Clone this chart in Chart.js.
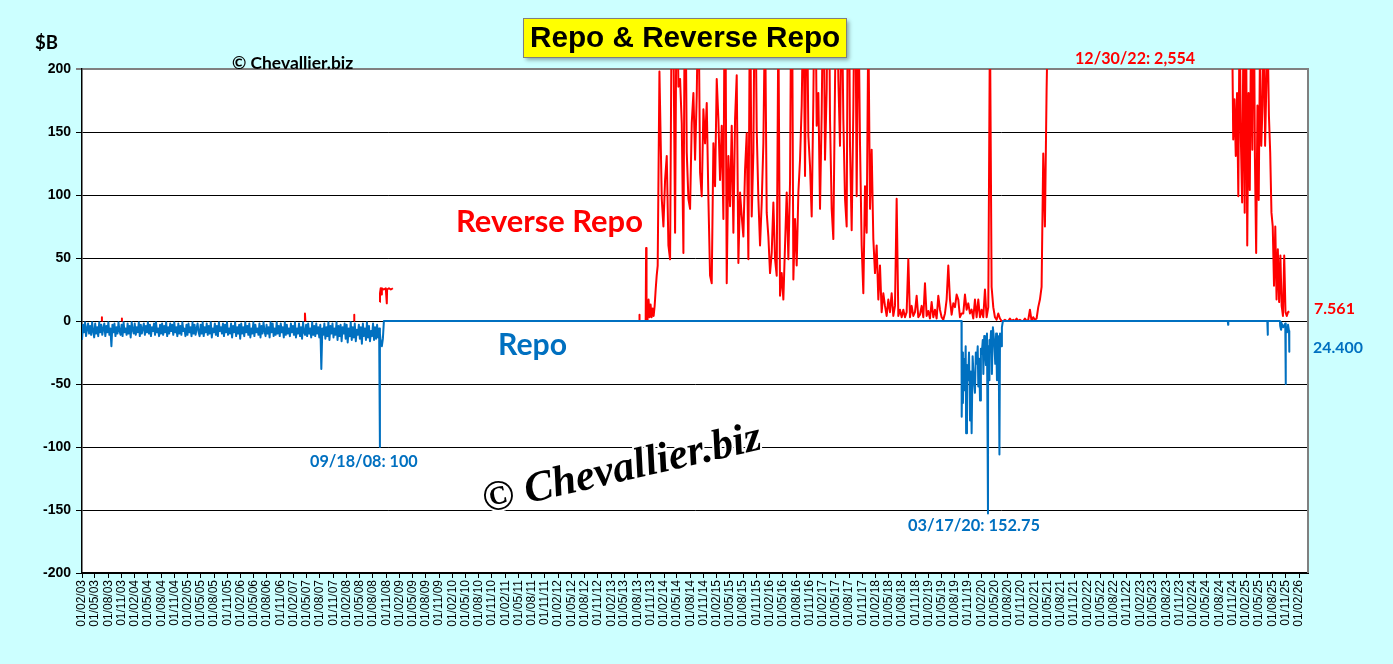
<!DOCTYPE html>
<html>
<head>
<meta charset="utf-8">
<title>Repo &amp; Reverse Repo</title>
<script src="https://cdn.jsdelivr.net/npm/chart.js@4.4.1/dist/chart.umd.min.js"></script>
<style>
  html, body { margin: 0; padding: 0; background: #CCFFFF; }
  canvas { display: block; }
</style>
</head>
<body>
<canvas id="chart" width="1393" height="664"></canvas>
<script>
// Repo & Reverse Repo ($B) - daily series at a coarser step

const DAY = 86400000;
const t = s => Date.parse(s);

// x axis: quarterly labels dd/mm/yy
const tickYears = ['03', '04', '05', '06', '07', '08', '09', '10', '11', '12', '13', '14',
  '15', '16', '17', '18', '19', '20', '21', '22', '23', '24', '25', '26'];
const tickMonths = ['02', '05', '08', '11'];
const xStart = '2003-02-01';
const xEnd = '2026-04-04';

// y axis
const yMin = -200;
const yMax = 200;
const yStep = 50;

// Repo (negative), 2003-2008, one value a week
const repoEarlyStart = '2003-02-01';
const repoEarlyStepDays = 7;
const repoEarly = [
  -15, -3, -9, -1, -12, -6, -2, -10, -4, -11, -1, -8, -13,
  -2, -10, -5, -12, -1, -9, -3, -11, -6, -2, -12, -4, -9,
  -1, -11, -6, -20, -3, -9, -2, -12, -5, -10, -1, -8, -11,
  -3, -12, -1, -9, -6, -11, -2, -10, -4, -13, -1, -7, -10,
  -2, -11, -5, -9, -1, -12, -3, -10, -6, -2, -11, -4, -9,
  -1, -10, -3, -12, -5, -8, -2, -11, -1, -9, -6, -12, -3,
  -10, -2, -11, -4, -9, -1, -12, -5, -10, -2, -8, -3, -11,
  -1, -9, -5, -12, -2, -10, -4, -11, -1, -8, -6, -12, -3,
  -11, -2, -9, -5, -12, -1, -10, -3, -11, -6, -2, -9, -12,
  -3, -10, -1, -12, -5, -9, -2, -11, -4, -10, -1, -13, -6,
  -9, -2, -11, -4, -12, -1, -8, -5, -10, -2, -12, -3, -9,
  -1, -11, -6, -10, -2, -13, -4, -9, -1, -12, -5, -10, -3,
  -14, -2, -10, -5, -12, -1, -9, -4, -11, -2, -13, -6, -10,
  -1, -12, -3, -9, -6, -11, -2, -13, -4, -10, -1, -8, -12,
  -3, -10, -5, -13, -1, -9, -2, -12, -6, -11, -1, -10, -4,
  -12, -2, -9, -5, -13, -1, -11, -3, -10, -6, -12, -2, -9,
  -4, -11, -1, -13, -6, -10, -2, -12, -5, -14, -1, -9, -11,
  -3, -12, -2, -10, -6, -13, -1, -11, -4, -12, -2, -10, -5,
  -13, -3, -38, -6, -11, -2, -14, -5, -12, -1, -15, -4, -10,
  -2, -13, -6, -11, -1, -15, -4, -12, -3, -16, -5, -10, -2,
  -14, -3, -17, -6, -12, -1, -15, -5, -13, -2, -16, -7, -11,
  -3, -14, -5, -18, -2, -12, -6, -15, -1, -13, -4, -16, -8,
  -12, -2, -15, -5, -14, -3, -13, -6
];

// Repo, dated points from Sept 2008 on
const repoLateDates = [
  '2008-09-18', '2008-09-19', '2008-09-25', '2008-10-02', '2008-10-09', '2008-10-16',
  '2019-09-16', '2019-09-17', '2019-09-18', '2019-09-23', '2019-09-26', '2019-10-01',
  '2019-10-08', '2019-10-15', '2019-10-18', '2019-10-24', '2019-11-01', '2019-11-07',
  '2019-11-14', '2019-11-20', '2019-11-25', '2019-12-02', '2019-12-09', '2019-12-18',
  '2019-12-24', '2019-12-31', '2020-01-06', '2020-01-10', '2020-01-16', '2020-01-22',
  '2020-01-28', '2020-02-03', '2020-02-10', '2020-02-14', '2020-02-20', '2020-02-25',
  '2020-03-03', '2020-03-10', '2020-03-17', '2020-03-18', '2020-03-24', '2020-03-27',
  '2020-04-01', '2020-04-07', '2020-04-13', '2020-04-20', '2020-04-24', '2020-05-01',
  '2020-05-06', '2020-05-12', '2020-05-18', '2020-05-25', '2020-05-30', '2020-06-04',
  '2020-06-08', '2020-06-15', '2020-06-21', '2020-06-28',
  '2024-09-27', '2024-09-30', '2024-10-01', '2025-06-27', '2025-06-30', '2025-07-01',
  '2025-09-22', '2025-09-24', '2025-09-30', '2025-10-01', '2025-10-15', '2025-10-29',
  '2025-10-31', '2025-11-03', '2025-11-10', '2025-11-17', '2025-11-24', '2025-11-26'
];
const repoLate = [
  -100, -10, -18, -20, -14, 0,
  0, -53, -76, -25, -65, -30,
  -55, -20, -89, -35, -47, -25,
  -79, -40, -89, -28, -45, -57,
  -25, -34, -20, -52, -30, -63,
  -22, -26, -15, -42, -12, -20,
  -35, -10, -152.75, -20, -47, -15,
  -20, -8, -42, -5, -10, -20,
  -34, -10, -47, -12, -28, -106,
  -10, -20, -5, 0,
  0, -3, 0, 0, -11, 0,
  0, -4, -7, -1, -5, -2,
  -50, -6, -9, -3, -8, -24.4
];

// Reverse repo, small early bits (null = break in the line)
const rrpEarlyDates = [
  '2003-06-17', '2003-06-18', '2003-06-19', '2003-06-20',
  '2003-11-02', '2003-11-03', '2003-11-04', '2003-11-05',
  '2007-04-19', '2007-04-20', '2007-04-23', '2007-04-24',
  '2008-03-24', '2008-03-25', '2008-03-26', '2008-03-27',
  '2008-09-18', '2008-09-19', '2008-09-24', '2008-09-29', '2008-10-02', '2008-10-15',
  '2008-10-29', '2008-11-05', '2008-11-07', '2008-11-20', '2008-12-03', '2008-12-17',
  '2008-12-18',
  '2013-08-01', '2013-08-14', '2013-08-15', '2013-08-16', '2013-09-27', '2013-09-30',
  '2013-10-03', '2013-10-10', '2013-10-17', '2013-10-24', '2013-10-31', '2013-11-07',
  '2013-11-14', '2013-11-21', '2013-11-28', '2013-12-05', '2013-12-12', '2013-12-19',
  '2013-12-31'
];
const rrpEarly = [
  0, 3, 0, null,
  0, 2, 0, null,
  0, 6, 0, null,
  0, 5, 0, null,
  15, 22, 26, 21, 26, 25,
  26, 14, 25, 26, 25, 26,
  null,
  0, 0, 5, 0, 0, 58,
  2, 1, 17, 3, 13, 3,
  10, 4, 12, 25, 36, 44,
  198
];

// Reverse repo 2014 - mid 2021, one value every 11.5 days
const rrpMidStart = '2014-01-16';
const rrpMidStepDays = 11.5;
const rrpMid = [
  97, 75, 112, 131, 60, 49, 260, 230, 70, 290, 186, 192, 157, 54, 310, 134,
  97, 89, 157, 181, 128, 179, 270, 118, 99, 168, 141, 173, 97, 36, 30, 141,
  107, 192, 160, 112, 155, 81, 320, 30, 131, 91, 155, 70, 160, 195, 46, 102,
  83, 67, 120, 149, 49, 280, 83, 134, 300, 152, 97, 60, 94, 141, 250, 86,
  67, 38, 54, 94, 49, 36, 240, 20, 38, 17, 60, 102, 49, 110, 330, 33,
  81, 44, 102, 128, 171, 260, 115, 290, 147, 123, 83, 176, 310, 155, 181, 89,
  165, 280, 128, 184, 340, 160, 89, 65, 187, 300, 192, 139, 270, 160, 97, 75,
  350, 139, 72, 168, 310, 99, 260, 141, 60, 22, 107, 70, 240, 89, 136, 65,
  38, 60, 17, 44, 7, 22, 12, 4, 17, 7, 22, 4, 12, 97, 4, 9,
  3, 9, 3, 7, 49, 3, 12, 4, 7, 20, 3,
  5, 12, 3, 30, 4, 8, 2, 15, 3, 9,
  2, 20, 9, 3, 1, 6, 17, 44, 17, 5,
  14, 11, 21, 17, 3, 6, 6, 21, 9, 14,
  6, 9, 2, 17, 3, 17, 3, 9, 3, 25,
  3, 11, 240, 27, 11, 3, 1, 6, 2, 0,
  0, 1, 0, 0, 2, 0, 1, 0, 2, 0,
  1, 0, 0, 2, 0, 1, 9, 0, 3, 1,
  2, 11, 17, 27, 133, 75, 183, 260
];

// Reverse repo 2021-2024, above the axis top
const rrpHighDates = [
  '2021-06-01', '2021-06-30', '2021-09-30', '2021-12-31', '2022-03-31', '2022-06-30',
  '2022-09-30', '2022-12-30', '2023-03-31', '2023-06-30', '2023-09-29', '2023-12-29',
  '2024-03-28', '2024-06-28', '2024-08-30', '2024-09-30', '2024-10-18'
];
const rrpHigh = [
  480, 992, 1604, 1904, 1871, 2329,
  2426, 2554, 2375, 2140, 1479, 1018,
  440, 418, 357, 500, 300
];

// Reverse repo, late 2024 - Nov 2025, one value every 8.8 days
const rrpLateStart = '2024-10-26';
const rrpLateStepDays = 8.8;
const rrpLate = [
  250, 144, 176, 131, 181, 99, 250, 144, 94, 230, 86, 260, 60, 181, 104, 240,
  136, 300, 131, 54, 171, 96, 220, 139, 171, 250, 139, 189, 230, 163, 134, 86,
  75, 28, 75, 17, 57, 15, 52, 12, 4, 52, 7, 4, 7, 7.561
];

// Builds {x, y} points from a start date and a fixed step
function stepPoints(start, stepDays, values) {
  const t0 = t(start);
  return values.map((v, i) => ({ x: t0 + i * stepDays * DAY, y: v }));
}
// Builds {x, y} points from a list of dates
function datedPoints(dates, values) {
  return dates.map((d, i) => ({ x: t(d), y: values[i] }));
}

const repoPoints = stepPoints(repoEarlyStart, repoEarlyStepDays, repoEarly)
  .concat(datedPoints(repoLateDates, repoLate));
const rrpPoints = datedPoints(rrpEarlyDates, rrpEarly)
  .concat(stepPoints(rrpMidStart, rrpMidStepDays, rrpMid))
  .concat(datedPoints(rrpHighDates, rrpHigh))
  .concat(stepPoints(rrpLateStart, rrpLateStepDays, rrpLate));

// Quarterly tick labels and positions
const xTickLabels = [];
tickYears.forEach(y => tickMonths.forEach(m => {
  if (y === '26' && m !== '02') return;
  xTickLabels.push('01/' + m + '/' + y);
}));
const xTickValues = xTickLabels.map(s => {
  const p = s.split('/');
  return Date.UTC(2000 + parseInt(p[2], 10), parseInt(p[1], 10) - 1, parseInt(p[0], 10));
});

// Text with a given width: font size is scaled to fit
function fitText(ctx, text, x, y, w, font, color) {
  ctx.font = font.replace('SIZE', '100px');
  const size = 100 * w / ctx.measureText(text).width;
  ctx.font = font.replace('SIZE', size.toFixed(1) + 'px');
  ctx.fillStyle = color;
  ctx.textAlign = 'left';
  ctx.textBaseline = 'alphabetic';
  ctx.fillText(text, x, y);
}

const RED = '#FF0000';
const BLUE = '#0070C0';
const LABEL_FONT = 'bold SIZE Lato, "Noto Sans", sans-serif';

const labels = [
  ['$B', 35, 49, 23, '#000000'],
  ['\u00A9 Chevallier.biz', 232, 69, 121, '#000000'],
  ['Reverse Repo', 456, 232, 187, RED],
  ['Repo', 498, 355, 69, BLUE],
  ['09/18/08: 100', 310, 467, 108, BLUE],
  ['03/17/20: 152.75', 908, 531, 132, BLUE],
  ['12/30/22: 2,554', 1075, 64, 120, RED],
  ['7.561', 1314, 314, 41, RED],
  ['24.400', 1313, 353, 50, BLUE]
];

// Background, plot area, title box, notes and watermark
const decor = {
  id: 'decor',
  beforeDraw(chart) {
    const { ctx, chartArea: a } = chart;
    ctx.save();
    ctx.fillStyle = '#CCFFFF';
    ctx.fillRect(0, 0, chart.width, chart.height);
    ctx.fillStyle = '#FFFFFF';
    ctx.fillRect(a.left, a.top, a.right - a.left, a.bottom - a.top);
    ctx.restore();
  },
  afterDraw(chart) {
    const { ctx, chartArea: a } = chart;
    ctx.save();
    // right frame line
    ctx.strokeStyle = '#808080';
    ctx.lineWidth = 2;
    ctx.beginPath();
    ctx.moveTo(a.right, a.top - 1);
    ctx.lineTo(a.right, a.bottom);
    ctx.stroke();

    // watermark
    ctx.save();
    ctx.translate(622, 470);
    ctx.rotate(-13 * Math.PI / 180);
    const wm = '\u00A9 Chevallier.biz';
    ctx.font = 'italic bold 100px "Liberation Serif", serif';
    const wmSize = 100 * 285 / ctx.measureText(wm).width;
    ctx.font = 'italic bold ' + wmSize.toFixed(1) + 'px "Liberation Serif", serif';
    ctx.textAlign = 'center';
    ctx.textBaseline = 'middle';
    ctx.lineJoin = 'round';
    ctx.strokeStyle = '#FFFFFF';
    ctx.lineWidth = 4;
    ctx.strokeText(wm, 0, 0);
    ctx.fillStyle = '#000000';
    ctx.fillText(wm, 0, 0);
    ctx.restore();

    // title box
    ctx.save();
    ctx.shadowColor = 'rgba(0, 0, 0, 0.35)';
    ctx.shadowOffsetX = 3;
    ctx.shadowOffsetY = 3;
    ctx.shadowBlur = 4;
    ctx.fillStyle = '#FFFF00';
    ctx.fillRect(523, 18, 323, 39);
    ctx.restore();
    ctx.strokeStyle = '#7F7F7F';
    ctx.lineWidth = 1;
    ctx.strokeRect(523.5, 18.5, 323, 39);
    fitText(ctx, 'Repo & Reverse Repo', 530, 47, 310, 'bold SIZE "Liberation Sans", Arial, sans-serif', '#000000');

    labels.forEach(l => fitText(ctx, l[0], l[1], l[2], l[3], LABEL_FONT, l[4]));
    ctx.restore();
  }
};

const ctx = document.getElementById('chart').getContext('2d');
new Chart(ctx, {
  type: 'line',
  data: {
    datasets: [
      {
        label: 'Repo',
        data: repoPoints,
        borderColor: BLUE,
        borderWidth: 2,
        borderJoinStyle: 'round',
        pointRadius: 0,
        spanGaps: false,
        clip: 0
      },
      {
        label: 'Reverse Repo',
        data: rrpPoints,
        borderColor: RED,
        borderWidth: 2,
        borderJoinStyle: 'round',
        pointRadius: 0,
        spanGaps: false,
        clip: 0
      }
    ]
  },
  options: {
    responsive: false,
    animation: false,
    events: [],
    layout: { padding: { top: 69, right: 85, bottom: 0, left: 0 } },
    plugins: { legend: { display: false }, tooltip: { enabled: false } },
    elements: { line: { tension: 0 } },
    scales: {
      x: {
        type: 'linear',
        min: t(xStart),
        max: t(xEnd),
        afterBuildTicks: s => { s.ticks = xTickValues.map(v => ({ value: v })); },
        afterFit: s => { s.height = 91; },
        ticks: {
          autoSkip: false,
          maxRotation: 90,
          minRotation: 90,
          padding: 2,
          color: '#000000',
          font: { family: '"Liberation Sans", Arial, sans-serif', size: 12 },
          callback: (v, i) => xTickLabels[i]
        },
        grid: { drawOnChartArea: false, drawTicks: true, tickLength: 5, color: '#000000' },
        border: { color: '#000000', width: 2 }
      },
      y: {
        min: yMin,
        max: yMax,
        afterFit: s => { s.width = 82; },
        ticks: {
          stepSize: yStep,
          padding: 5,
          color: '#000000',
          font: { family: '"Liberation Sans", Arial, sans-serif', size: 14, weight: 'bold' },
          callback: v => String(v)
        },
        grid: {
          color: c => (c.tick && c.tick.value === yMax ? '#808080' : '#000000'),
          lineWidth: c => (c.tick && c.tick.value === yMax ? 2 : 1),
          tickLength: 6
        },
        border: { color: '#000000', width: 1.5 }
      }
    }
  },
  plugins: [decor]
});
</script>
</body>
</html>
